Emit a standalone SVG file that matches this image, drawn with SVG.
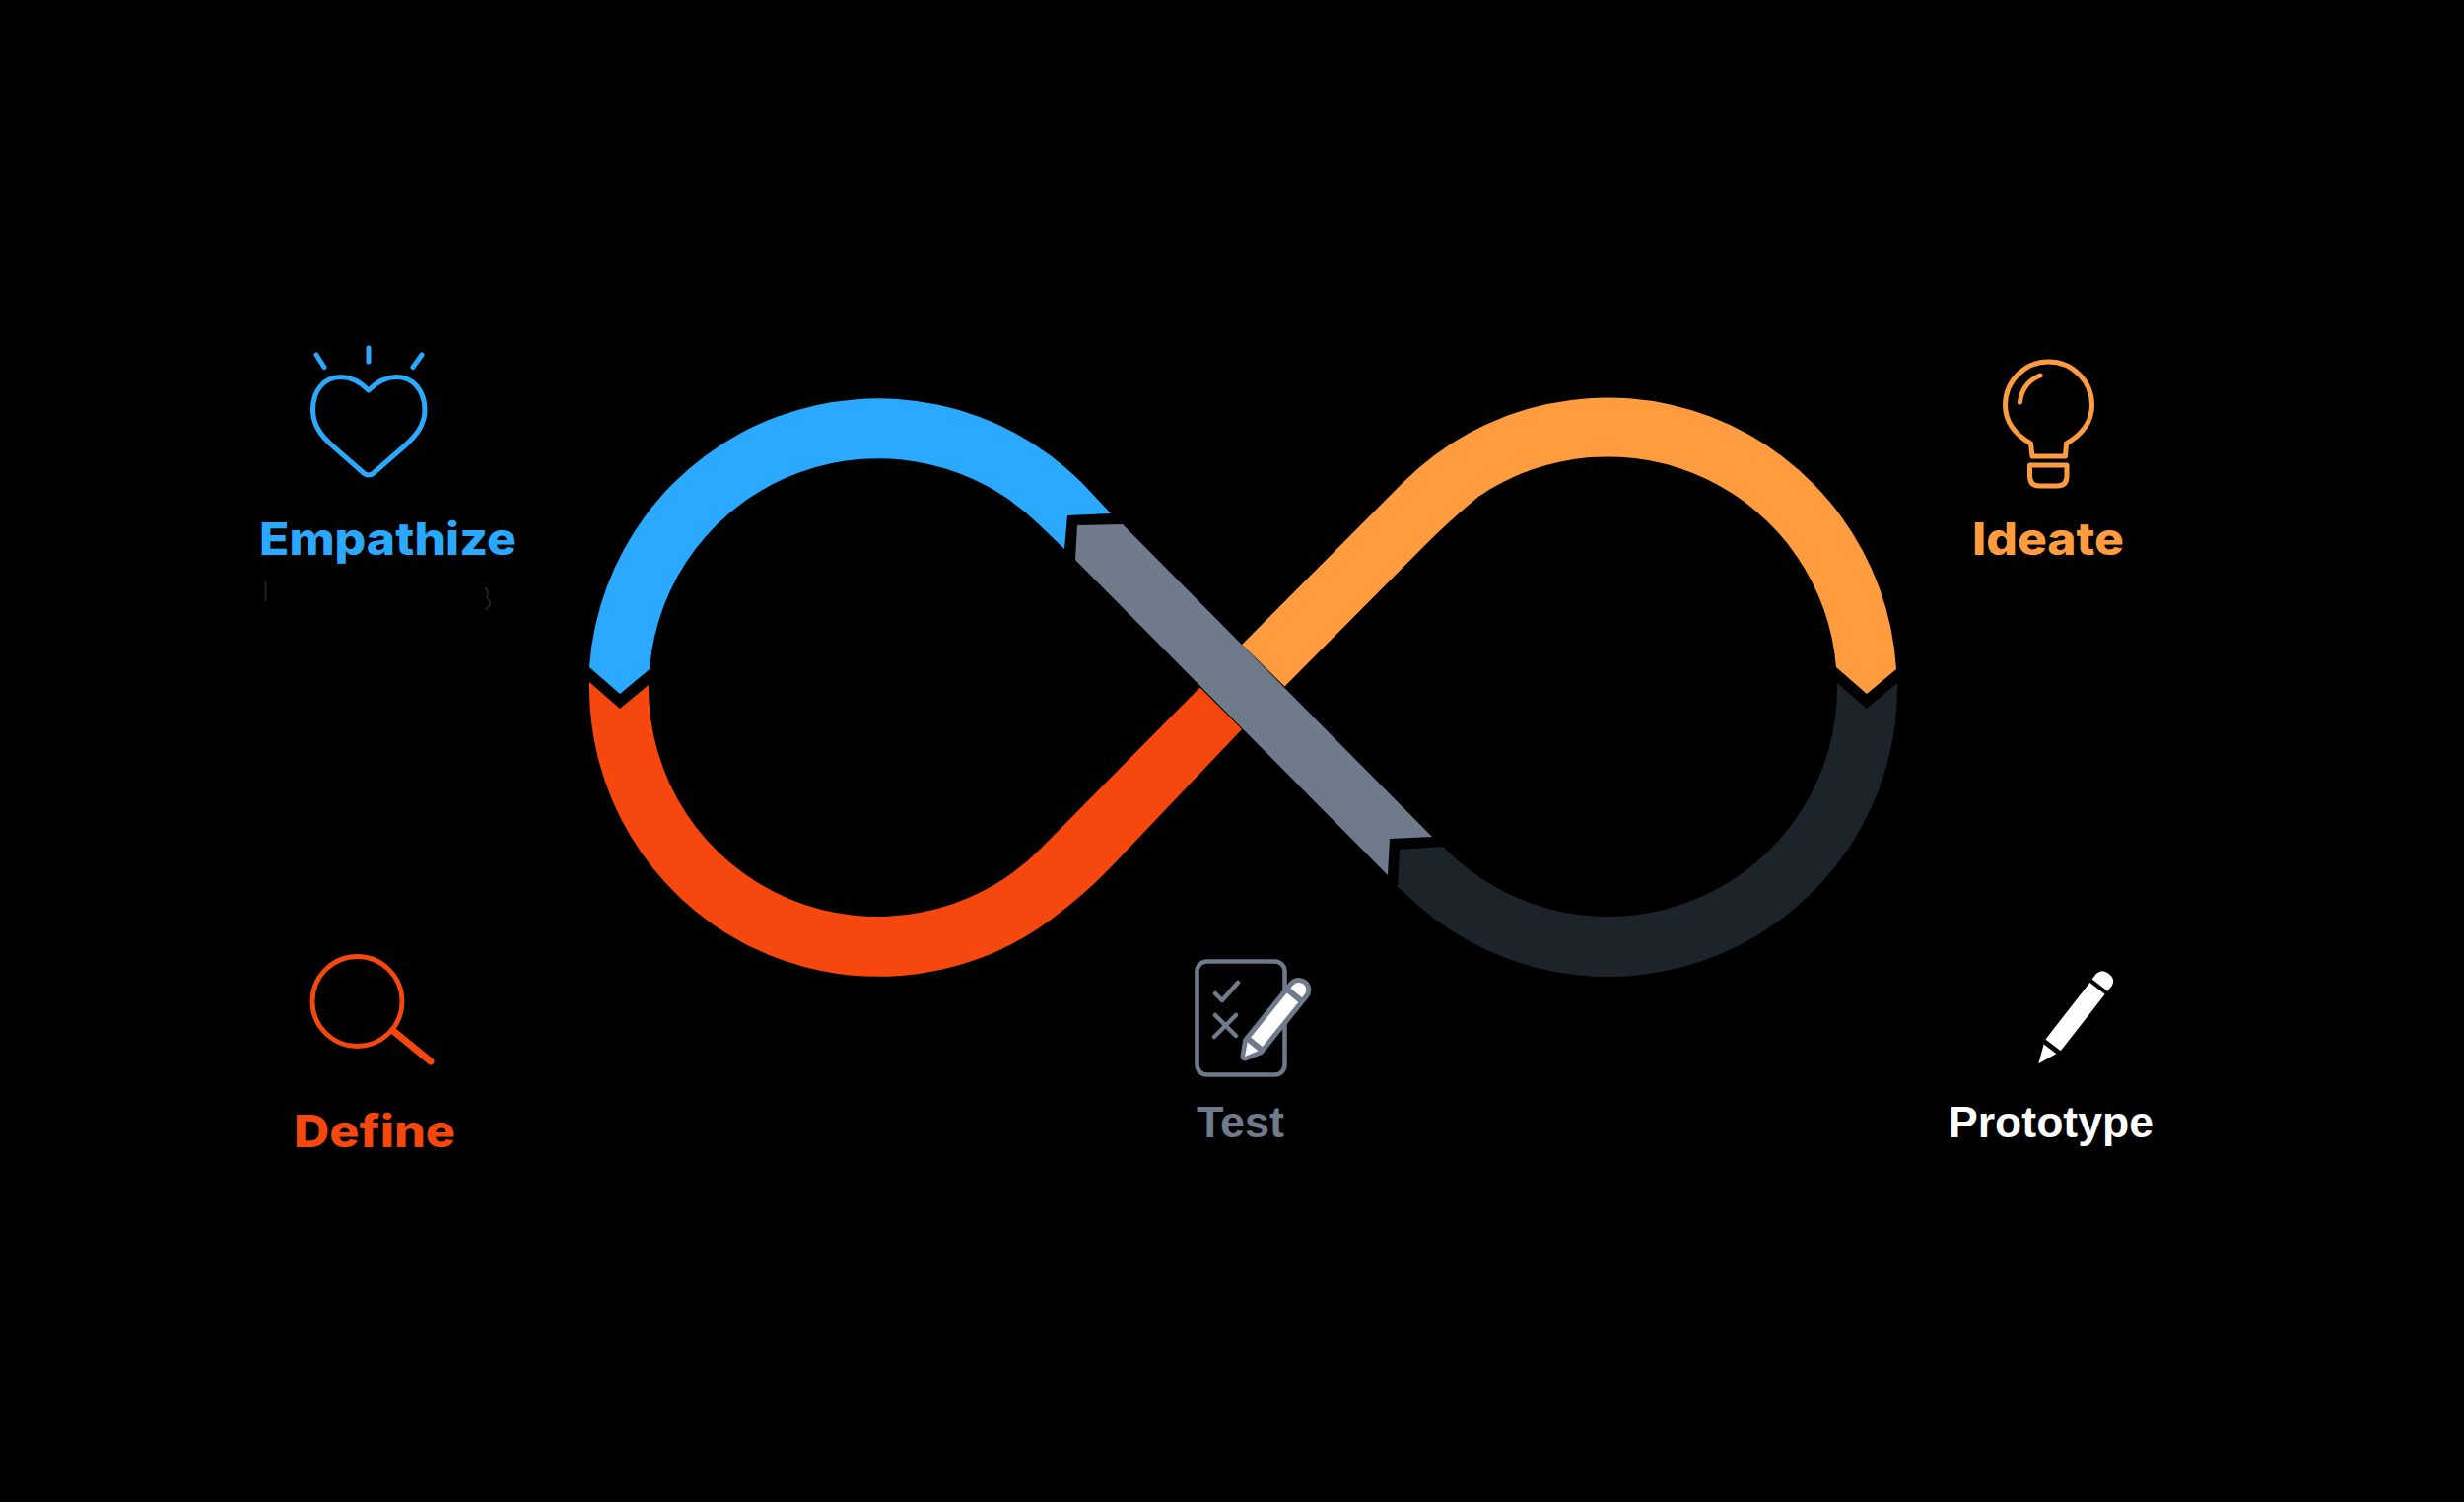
<svg xmlns="http://www.w3.org/2000/svg" width="2500" height="1524" viewBox="0 0 2500 1524">
<style>
.ico{fill:none;stroke-width:5;stroke-linecap:round;stroke-linejoin:round}
.mont{font-family:"Inter","Liberation Sans",sans-serif;font-weight:800;font-size:45px}
.helv{font-family:"Liberation Sans","Arimo",sans-serif;font-weight:700;font-size:44px}
</style>
<rect id="background" width="2500" height="1524" fill="#000"/>
<g id="connectors">
<path id="band-empathize" fill="#2AA9FF" d="M598 677A293.500 293.500 0 0 1 1097.500 489.500L1127 521L1083 523L1080 557L1054.400 532.600A232.500 232.500 0 0 0 659 679L629 704Z"/>
<path id="band-define" fill="#F6470E" d="M598 692L629 719L658 695A232.500 232.500 0 0 0 1054.400 862.400L1217.500 697.500L1260 740L1125 882Q1100 908 1065 934A293.500 293.500 0 0 1 598 692Z"/>
<path id="band-ideate" fill="#FF9C40" d="M1924 679A293.500 293.500 0 0 0 1423.500 489.500L1260 654L1303.500 696.500L1445 554Q1472 527 1500 504A232.500 232.500 0 0 1 1863 677L1894 704Z"/>
<path id="band-prototype" fill="#1D232B" d="M1925 693L1894 719L1864 693A232.500 232.500 0 0 1 1466.600 861.400L1464 859L1420 862L1418 900L1423.500 904.500A293.500 293.500 0 0 0 1925 693Z"/>
<path id="band-test" fill="#6F7A8A" d="M1093 533L1139 532L1453 849L1410 851L1408 888L1091 568Z"/>
</g>
<g id="empathize">
<g class="ico" stroke="#2AA9FF">
<path d="M374 396C366 388 356 382.500 346 382.500C329 382.500 317.500 396 317.500 416C317.500 432 327 443 337 452L369 480Q374 484 379 480L411 452C421 443 431 432 431 416C431 396 419 382.500 402 382.500C392 382.500 382 388 374 396Z"/>
<path d="M374 353V367M321 360L329 372.500M428 360L419 372.500"/>
</g>
<text class="mont" x="263" y="563" fill="#2AA9FF" textLength="261" lengthAdjust="spacingAndGlyphs">Empathize</text>
<path d="M269.500 590V610M492 596Q497 600 494 606Q498 610 497 614Q496 617 492 618" fill="none" stroke="#1D232B" stroke-width="1.800"/>
</g>
<g id="ideate">
<g class="ico" stroke="#FF9C40" stroke-width="4.500">
<path d="M2060.500 450C2045 441 2034.500 428 2034.500 411C2034.500 387 2054 367 2078.500 367C2103 367 2122.500 387 2122.500 411C2122.500 428 2112 441 2096.500 450L2095.500 463H2062Z"/>
<path d="M2059.500 472H2097V483Q2097 493 2087 493H2069.500Q2059.500 493 2059.500 483Z"/>
<path d="M2049.500 408Q2052 388 2070 381"/>
</g>
<text class="mont" x="2001" y="563" fill="#FF9C40" textLength="154" lengthAdjust="spacingAndGlyphs">Ideate</text>
</g>
<g id="define">
<circle cx="362.500" cy="1016" r="45.500" fill="none" stroke="#F6470E" stroke-width="4.800"/>
<path d="M399 1046L437 1077" fill="none" stroke="#F6470E" stroke-width="7" stroke-linecap="round"/>
<text class="mont" x="298" y="1164" fill="#F6470E" textLength="164" lengthAdjust="spacingAndGlyphs">Define</text>
</g>
<g id="test">
<rect x="1214.500" y="975.500" width="89" height="115" rx="10" fill="none" stroke="#6F7A8A" stroke-width="4.500"/>
<path d="M1233 1008L1240 1015L1256 997M1233 1030L1254 1051M1254 1030L1232 1052" fill="none" stroke="#6F7A8A" stroke-width="4.500" stroke-linecap="round" stroke-linejoin="round"/>
<g transform="translate(1263 1072) rotate(-51)">
<path d="M0 0L14 -8H87A8 8 0 0 1 87 8H14Z" fill="#6F7A8A" stroke="#6F7A8A" stroke-width="9" stroke-linejoin="round"/>
<path d="M0 0L13 -7V7ZM19 -7.500H77V7.500H19ZM83 -7.500H87A7.500 7.500 0 0 1 87 7.500H83Z" fill="#fff"/>
</g>
<text class="helv" x="1214" y="1154" fill="#6F7A8A" textLength="89" lengthAdjust="spacingAndGlyphs">Test</text>
</g>
<g id="prototype">
<g transform="translate(2068.300 1079.300) rotate(-52)" fill="#fff">
<path d="M0 0L19 -8V8Z"/>
<rect x="24" y="-9.700" width="73" height="19.400"/>
<path d="M101 -10H108Q116 -9 116 0Q116 9 108 10H101Z"/>
</g>
<text class="helv" x="1977" y="1154" fill="#fff" textLength="208" lengthAdjust="spacingAndGlyphs">Prototype</text>
</g>
</svg>
